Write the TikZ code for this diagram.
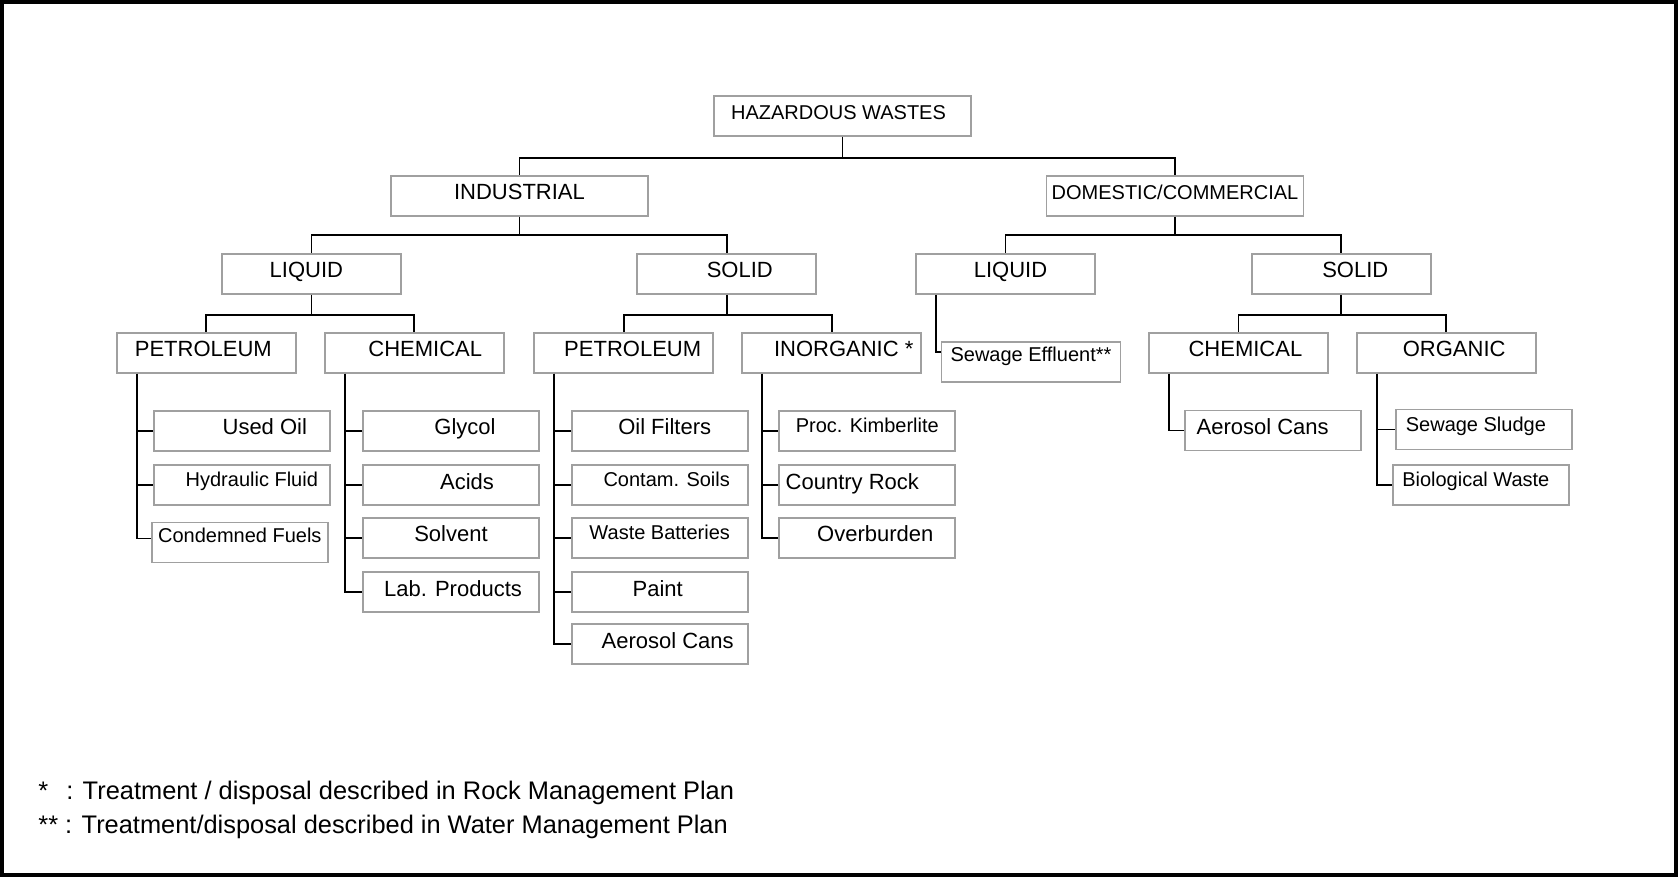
\documentclass[tikz,border=0pt]{standalone}
\usepackage{fontspec}
\setmainfont{Liberation Sans}
\usepackage{tikz}
\usetikzlibrary{calc}
\definecolor{boxgray}{RGB}{160,160,160}

\begin{document}
\begin{tikzpicture}[x=0.5pt, y=-0.5pt, font=\fontsize{11}{13}\selectfont,
    wbox/.style={draw=boxgray, line width=0.9pt, fill=white, rectangle, inner sep=0pt, minimum height=20pt, text height=8pt, text depth=4pt},
    catbox/.style={wbox, minimum width=128.5pt},
    subbox/.style={wbox, minimum width=89.5pt},
    leafbox/.style={wbox, minimum width=88pt},
    smalltxt/.style={font=\fontsize{10}{12}\selectfont, text depth=6pt},
    tx/.style={execute at begin node={\hspace*{#1pt}}},
    link/.style={draw=black, line width=0.9pt},
    note/.style={anchor=west, inner sep=0pt, font=\fontsize{12.7}{15}\selectfont}]
          \useasboundingbox (0,0) rectangle (1678,877);
          \draw[line width=2pt] (2,2) rectangle (1676,875);
          % top levels
          \node[catbox, smalltxt, text depth=4pt, tx=-4] (haz) at (842.5,116) {HAZARDOUS WASTES};
          \node[catbox] (ind) at (519.5,196) {INDUSTRIAL};
          \node[catbox, smalltxt, text depth=4pt] (dom) at (1175,196) {DOMESTIC/COMMERCIAL};
          \node[subbox, tx=-5] (indliq) at (311.4,274) {LIQUID};
          \node[subbox, tx=13] (indsol) at (726.8,274) {SOLID};
          \node[subbox, tx=5] (domliq) at (1005.5,274) {LIQUID};
          \node[subbox, tx=14] (domsol) at (1341.3,274) {SOLID};
          \node[subbox, tx=-3] (ilpet) at (206.3,353) {PETROLEUM};
          \node[subbox, tx=11] (ilchem) at (414.3,353) {CHEMICAL};
          \node[subbox, tx=9] (ispet) at (623.7,353) {PETROLEUM};
          \node[subbox, tx=12] (isinorg) at (831.7,353) {INORGANIC *};
          \node[subbox, smalltxt, text depth=8pt] (dlsew) at (1031,362) {Sewage Effluent**};
          \node[subbox, tx=7] (dschem) at (1238.4,353) {CHEMICAL};
          \node[subbox, tx=8] (dsorg) at (1446.2,353) {ORGANIC};
          % leaves
          \node[leafbox, tx=23] (usedoil) at (241.8,430.7) {Used Oil};
          \node[leafbox, smalltxt, tx=10] (hydfluid) at (241.8,485) {Hydraulic Fluid};
          \node[leafbox, smalltxt, text depth=8.5pt] (condfuel) at (239.8,542.5) {Condemned Fuels};
          \node[leafbox, tx=14] (glycol) at (451,430.7) {Glycol};
          \node[leafbox, tx=16] (acids) at (451,485) {Acids};
          \node[leafbox] (solvent) at (451,537.7) {Solvent};
          \node[leafbox, tx=2] (labprod) at (451,592.3) {Lab. Products};
          \node[leafbox, tx=5] (oilfilt) at (659.7,430.7) {Oil Filters};
          \node[leafbox, smalltxt, tx=7] (soils) at (659.7,485) {Contam. Soils};
          \node[leafbox, smalltxt] (battery) at (659.7,537.7) {Waste Batteries};
          \node[leafbox, tx=-2] (paint) at (659.7,592.3) {Paint};
          \node[leafbox, tx=8] (isaero) at (659.7,644.2) {Aerosol Cans};
          \node[leafbox, smalltxt] (kimber) at (867.3,430.7) {Proc. Kimberlite};
          \node[leafbox, tx=-15] (crock) at (867.3,485) {Country Rock};
          \node[leafbox, tx=8] (overb) at (867.3,537.7) {Overburden};
          \node[leafbox, tx=-10] (dsaero) at (1272.7,430.5) {Aerosol Cans};
          \node[leafbox, smalltxt, tx=-8] (sludge) at (1483.9,429.5) {Sewage Sludge};
          \node[leafbox, smalltxt, tx=-5] (bio) at (1480.8,485) {Biological Waste};
          % tree connectors
          \draw[link] (haz.south) -- ++(0,21) -| (ind.north);
          \draw[link] (haz.south) -- ++(0,21) -| (dom.north);
          \draw[link] (ind.south) -- ++(0,18) -| (indliq.north);
          \draw[link] (ind.south) -- ++(0,18) -| (indsol.north);
          \draw[link] (dom.south) -- ++(0,18) -| (domliq.north);
          \draw[link] (dom.south) -- ++(0,18) -| (domsol.north);
          \draw[link] (indliq.south) -- ++(0,20) -| (ilpet.north);
          \draw[link] (indliq.south) -- ++(0,20) -| (ilchem.north);
          \draw[link] (indsol.south) -- ++(0,20) -| (ispet.north);
          \draw[link] (indsol.south) -- ++(0,20) -| (isinorg.north);
          \draw[link] (domsol.south) -- ++(0,20) -| (dschem.north);
          \draw[link] (domsol.south) -- ++(0,20) -| (dsorg.north);
          \draw[link] ($(domliq.south west)+(21,0)$) |- ([yshift=5pt]dlsew.west);
          % leaf connectors
          \draw[link] ($(ilpet.south west)+(21,0)$) |- (usedoil.west);
          \draw[link] ($(ilpet.south west)+(21,0)$) |- (hydfluid.west);
          \draw[link] ($(ilpet.south west)+(21,0)$) |- ([yshift=2pt]condfuel.west);
          \draw[link] ($(ilchem.south west)+(21,0)$) |- (glycol.west);
          \draw[link] ($(ilchem.south west)+(21,0)$) |- (acids.west);
          \draw[link] ($(ilchem.south west)+(21,0)$) |- (solvent.west);
          \draw[link] ($(ilchem.south west)+(21,0)$) |- (labprod.west);
          \draw[link] ($(ispet.south west)+(21,0)$) |- (oilfilt.west);
          \draw[link] ($(ispet.south west)+(21,0)$) |- (soils.west);
          \draw[link] ($(ispet.south west)+(21,0)$) |- (battery.west);
          \draw[link] ($(ispet.south west)+(21,0)$) |- (paint.west);
          \draw[link] ($(ispet.south west)+(21,0)$) |- (isaero.west);
          \draw[link] ($(isinorg.south west)+(21,0)$) |- (kimber.west);
          \draw[link] ($(isinorg.south west)+(21,0)$) |- (crock.west);
          \draw[link] ($(isinorg.south west)+(21,0)$) |- (overb.west);
          \draw[link] ($(dschem.south west)+(21,0)$) |- (dsaero.west);
          \draw[link] ($(dsorg.south west)+(21,0)$) |- (sludge.west);
          \draw[link] ($(dsorg.south west)+(21,0)$) |- (bio.west);
          % footnotes
          \node[note] (note1) at (38,793) {*\hspace{9pt}: Treatment / disposal described in Rock Management Plan};
          \node[note] (note2) at (38,827) {** : Treatment/disposal described in Water Management Plan};
      \end{tikzpicture}
\end{document}
